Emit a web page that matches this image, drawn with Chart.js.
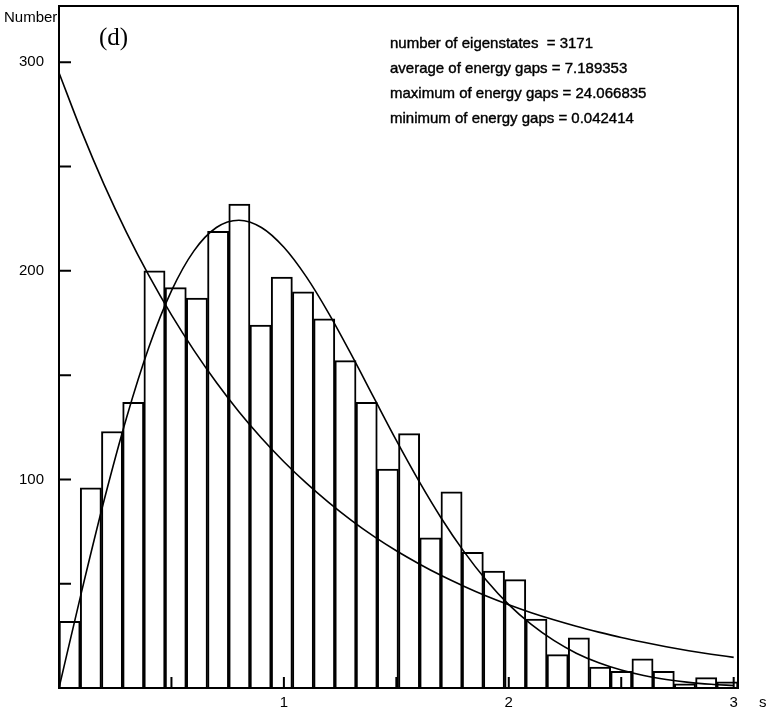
<!DOCTYPE html>
<html>
<head>
<meta charset="utf-8">
<script src="https://cdn.jsdelivr.net/npm/chart.js@4.4.1/dist/chart.umd.min.js"></script>
<style>
  body { margin: 0; background: #fff; }
  #wrap { width: 769px; height: 713px; }
</style>
</head>
<body>
<div id="wrap"><canvas id="myChart" width="769" height="713"></canvas></div>
<script>
// histogram of level spacings, bins of equal width starting at s = 0
const binWidth = 0.09435;
const counts = [32, 96, 123, 137, 200, 192, 187, 219, 232, 174,
                197, 190, 177, 157, 137, 105, 122, 72, 94, 65,
                56, 52, 33, 16, 24, 10, 8, 14, 8, 2, 5, 3];

// fitted curves at s = 0, 0.1, ... 3.0
const curveS = [0, 0.1, 0.2, 0.3, 0.4, 0.5, 0.6, 0.7, 0.8, 0.9, 1.0,
                1.1, 1.2, 1.3, 1.4, 1.5, 1.6, 1.7, 1.8, 1.9, 2.0,
                2.1, 2.2, 2.3, 2.4, 2.5, 2.6, 2.7, 2.8, 2.9, 3.0];
const poissonCurve = [295, 267, 241.5, 218.5, 197.7, 178.9, 161.9, 146.5, 132.5, 119.9, 108.5,
                      98.2, 88.9, 80.4, 72.7, 65.8, 59.6, 53.9, 48.8, 44.1, 39.9,
                      36.1, 32.7, 29.6, 26.8, 24.2, 21.9, 19.8, 17.9, 16.2, 14.7];
const wignerCurve = [0, 46, 89.8, 129.5, 163.5, 190.4, 209.6, 220.8, 224.3, 220.8, 211.3,
                     197.1, 179.5, 159.8, 139.2, 118.7, 99.3, 81.4, 65.5, 51.7, 40,
                     30.5, 22.8, 16.7, 12.1, 8.6, 6, 4.1, 2.7, 1.8, 1.2];

const yTicks = [50, 100, 150, 200, 250, 300];
const xTicks = [0.5, 1, 1.5, 2, 2.5, 3];
const infoLines = [
  "number of eigenstates  = 3171",
  "average of energy gaps = 7.189353",
  "maximum of energy gaps = 24.066835",
  "minimum of energy gaps = 0.042414"
];

const labelFont = "15px 'Liberation Sans', Arial, sans-serif";

const framePlugin = {
  id: 'frame',
  afterDraw(chart) {
    const ctx = chart.ctx;
    const a = chart.chartArea;
    const xs = chart.scales.x, ys = chart.scales.y;
    ctx.save();
    ctx.strokeStyle = '#000';
    ctx.lineWidth = 2;
    ctx.strokeRect(a.left, a.top, a.right - a.left, a.bottom - a.top);
    // inward tick marks
    ctx.beginPath();
    yTicks.forEach(v => {
      const y = ys.getPixelForValue(v);
      ctx.moveTo(a.left, y);
      ctx.lineTo(a.left + 12, y);
    });
    xTicks.forEach(v => {
      const x = xs.getPixelForValue(v);
      ctx.moveTo(x, a.bottom);
      ctx.lineTo(x, a.bottom - 11);
    });
    ctx.stroke();

    ctx.fillStyle = '#000';
    ctx.font = labelFont;
    ctx.textBaseline = 'middle';
    ctx.textAlign = 'left';
    ctx.fillText('Number', 4, 18);
    ctx.fillText('s', 759, 703);

    ctx.font = "25px 'Liberation Serif', 'Times New Roman', serif";
    ctx.textBaseline = 'alphabetic';
    ctx.fillText('(d)', 99, 45);

    ctx.font = "15px 'Liberation Sans', Arial, sans-serif";
    ctx.textBaseline = 'middle';
    ctx.lineWidth = 0.4;
    infoLines.forEach((t, i) => {
      ctx.fillText(t, 390, 44 + i * 25);
      ctx.strokeText(t, 390, 44 + i * 25);
    });
    ctx.restore();
  }
};

const ctx = document.getElementById('myChart').getContext('2d');

const chart = new Chart(ctx, {
  type: 'bar',
  data: {
    datasets: [
      {
        type: 'line',
        label: 'Poisson',
        data: curveS.map((s, i) => ({ x: s, y: poissonCurve[i] })),
        borderColor: '#000',
        borderWidth: 1.6,
        pointRadius: 0,
        cubicInterpolationMode: 'monotone',
        order: 1
      },
      {
        type: 'line',
        label: 'Wigner',
        data: curveS.map((s, i) => ({ x: s, y: wignerCurve[i] })),
        borderColor: '#000',
        borderWidth: 1.6,
        pointRadius: 0,
        cubicInterpolationMode: 'monotone',
        order: 1
      },
      {
        label: 'Number',
        data: counts.map((c, i) => ({ x: (i + 0.5) * binWidth, y: c })),
        backgroundColor: '#fff',
        borderColor: '#000',
        borderWidth: 2,
        barPercentage: 1,
        categoryPercentage: 1,
        order: 2
      }
    ]
  },
  options: {
    responsive: false,
    animation: false,
    layout: { padding: { top: 6, right: 31, left: 0, bottom: 0 } },
    plugins: { legend: { display: false }, tooltip: { enabled: false } },
    scales: {
      x: {
        type: 'linear',
        offset: false,
        min: 0,
        max: counts.length * binWidth,
        grid: { display: false, drawTicks: false },
        border: { display: false },
        ticks: {
          stepSize: 0.5,
          includeBounds: false,
          autoSkip: false,
          maxRotation: 0,
          padding: 6,
          color: '#000',
          font: { family: "'Liberation Sans', Arial, sans-serif", size: 15 },
          callback: v => (Number.isInteger(v) && v > 0) ? String(v) : ''
        },
        afterFit: s => { s.height = 25; s.paddingLeft = 0; s.paddingRight = 0; }
      },
      y: {
        min: 0,
        max: 327,
        grid: { display: false, drawTicks: false },
        border: { display: false },
        ticks: {
          stepSize: 50,
          includeBounds: false,
          autoSkip: false,
          padding: 15,
          color: '#000',
          font: { family: "'Liberation Sans', Arial, sans-serif", size: 15 },
          callback: v => (v > 0 && v % 100 === 0) ? String(v) : ''
        },
        afterFit: s => { s.width = 59; s.paddingTop = 0; s.paddingBottom = 0; }
      }
    }
  },
  plugins: [framePlugin]
});
</script>
</body>
</html>
